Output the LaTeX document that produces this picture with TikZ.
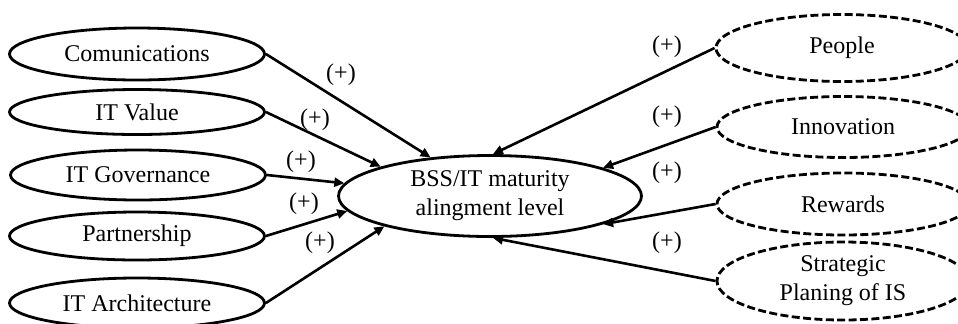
\documentclass[tikz,border=0pt]{standalone}
\usepackage{fontspec}
\setmainfont{Liberation Serif}
\usetikzlibrary{shapes.geometric,arrows.meta}

\begin{document}
\begin{tikzpicture}[x=0.5pt,y=-0.5pt,
  factor/.style={draw,ellipse,line width=1.4pt,inner sep=0pt,minimum width=127.5pt,minimum height=25pt,align=center,font=\fontsize{12}{14.5}\selectfont},
  hfactor/.style={factor,dash pattern=on 4pt off 1.7pt,minimum width=126pt},
  link/.style={line width=1.3pt,-{Triangle[length=5pt,width=4.5pt]}},
  sign/.style={font=\fontsize{12}{14.5}\selectfont}]
\useasboundingbox (0,0) rectangle (958,323);
\node[factor,minimum height=26pt] (comm) at (137,54) {Comunications};
\node[factor,minimum height=22.5pt] (value) at (137,112) {IT Value};
\node[factor] (gov) at (138,175) {IT Governance};
\node[factor,minimum height=24pt] (part) at (137,236) {Partnership};
\node[factor] (arch) at (137,303) {IT Architecture};
\node[factor,minimum width=151.5pt,minimum height=40.5pt] (bss) at (490,196) {BSS/IT maturity\\alingment level};
\node[hfactor,minimum height=33.5pt] (people) at (842,48) {People};
\node[hfactor,minimum height=30.5pt] (innov) at (843,127) {Innovation};
\node[hfactor,minimum height=31pt] (reward) at (843,204) {Rewards};
\node[hfactor,minimum height=39pt] (plan) at (843,281) {Strategic\\Planing of IS};
\draw[link] (comm.east) -- (bss.147);
\draw[link] (value.east) -- (bss.165);
\draw[link] (gov.east) -- (bss.175);
\draw[link] (part.east) -- (bss.186);
\draw[link] (arch.east) -- (bss.196);
\draw[link] (people.west) -- (bss.86);
\draw[link] (innov.west) -- (bss.14);
\draw[link] (reward.west) -- (bss.346);
\draw[link] (plan.west) -- (bss.274);
\node[sign] (s1) at (341,75) {(+)};
\node[sign] (s2) at (315,120) {(+)};
\node[sign] (s3) at (301,162) {(+)};
\node[sign] (s4) at (304,204) {(+)};
\node[sign] (s5) at (320,243) {(+)};
\node[sign] (s6) at (667,47) {(+)};
\node[sign] (s7) at (667,117) {(+)};
\node[sign] (s8) at (667,173) {(+)};
\node[sign] (s9) at (667,243) {(+)};
\end{tikzpicture}
\end{document}
